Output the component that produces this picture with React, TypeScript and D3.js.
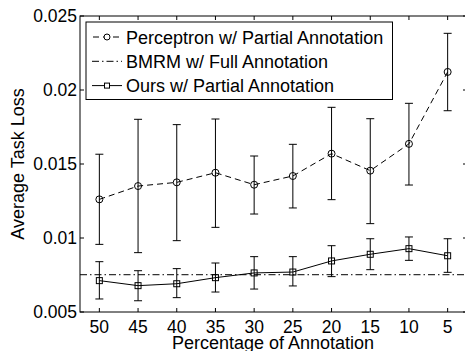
import React from "react";
import * as d3 from "d3";

const categories = ["50", "45", "40", "35", "30", "25", "20", "15", "10", "5"];
const perceptronMean = [0.01261, 0.01351, 0.01376, 0.01441, 0.0136, 0.01419, 0.0157, 0.01455, 0.01636, 0.02122];
const perceptronLow = [0.00957, 0.00901, 0.00982, 0.01072, 0.01162, 0.01203, 0.01259, 0.01097, 0.01358, 0.0186];
const perceptronHigh = [0.01566, 0.01802, 0.01766, 0.01804, 0.01554, 0.01633, 0.01883, 0.01806, 0.0191, 0.02383];
const oursMean = [0.00712, 0.00678, 0.00691, 0.00732, 0.00764, 0.0077, 0.00845, 0.0089, 0.00928, 0.0088];
const oursLow = [0.00588, 0.00576, 0.00597, 0.00635, 0.00655, 0.00676, 0.00739, 0.00786, 0.00849, 0.00768];
const oursHigh = [0.0084, 0.00779, 0.00793, 0.00831, 0.00874, 0.00874, 0.00948, 0.00995, 0.01007, 0.00995];
const bmrmValue = 0.00752;
const yTicks = [0.005, 0.01, 0.015, 0.02, 0.025];
const yTickLabels = ["0.005", "0.01", "0.015", "0.02", "0.025"];
const legendLabels = ["Perceptron w/ Partial Annotation", "BMRM w/ Full Annotation", "Ours w/ Partial Annotation"];

const W = 465;
const H = 351;
const L = 80, R = 467, T = 16, B = 312;
const FONT = "'Liberation Sans', Arial, Helvetica, sans-serif";

export default function App() {
  const x = d3.scalePoint<string>().domain(categories).range([L, R]).padding(0.5);
  const y = d3.scaleLinear().domain([0.005, 0.025]).range([B, T]);
  const line = d3.line<number>().x((_, i) => x(categories[i]) as number).y((d) => y(d));
  const tickLen = 4;
  const cap = 4;

  const errorBars = (low: number[], high: number[], key: string) =>
    low.map((lo, i) => {
      const cx = x(categories[i]) as number;
      const y1 = y(lo), y2 = y(high[i]);
      return (
        <g key={key + i} stroke="#000" strokeWidth={1} fill="none">
          <line x1={cx} x2={cx} y1={y1} y2={y2} />
          <line x1={cx - cap} x2={cx + cap} y1={y1} y2={y1} />
          <line x1={cx - cap} x2={cx + cap} y1={y2} y2={y2} />
        </g>
      );
    });

  const legendRows = [37, 61.3, 85.6];

  return (
    <svg width={W} height={H} style={{ position: "absolute", left: 0, top: 0, background: "#fff" }} fontFamily={FONT}>
      <rect x={0} y={0} width={W} height={H} fill="#fff" />
      {/* BMRM line */}
      <line x1={L} x2={R} y1={y(bmrmValue)} y2={y(bmrmValue)} stroke="#000" strokeWidth={1} strokeDasharray="7,3,1.5,3" />
      {/* error bars */}
      {errorBars(perceptronLow, perceptronHigh, "p")}
      {errorBars(oursLow, oursHigh, "o")}
      {/* series lines */}
      <path d={line(perceptronMean) as string} fill="none" stroke="#000" strokeWidth={1} strokeDasharray="6,4" />
      <path d={line(oursMean) as string} fill="none" stroke="#000" strokeWidth={1} />
      {perceptronMean.map((v, i) => (
        <circle key={"pc" + i} cx={x(categories[i]) as number} cy={y(v)} r={3.5} fill="none" stroke="#000" strokeWidth={1} />
      ))}
      {oursMean.map((v, i) => (
        <rect key={"os" + i} x={(x(categories[i]) as number) - 3} y={y(v) - 3} width={6} height={6} fill="none" stroke="#000" strokeWidth={1} />
      ))}
      {/* frame */}
      <rect x={L} y={T} width={R - L} height={B - T} fill="none" stroke="#000" strokeWidth={1} />
      {/* x ticks */}
      {categories.map((c) => {
        const cx = x(c) as number;
        return (
          <g key={"xt" + c}>
            <line x1={cx} x2={cx} y1={B} y2={B - tickLen} stroke="#000" />
            <line x1={cx} x2={cx} y1={T} y2={T + tickLen} stroke="#000" />
            <text x={cx} y={333} textAnchor="middle" fontSize={17.5} fill="#000">{c}</text>
          </g>
        );
      })}
      {/* y ticks */}
      {yTicks.map((t, i) => {
        const ty = y(t);
        return (
          <g key={"yt" + i}>
            <line x1={L} x2={L + tickLen} y1={ty} y2={ty} stroke="#000" />
            <line x1={R} x2={R - tickLen} y1={ty} y2={ty} stroke="#000" />
            <text x={77} y={ty + 6} textAnchor="end" fontSize={17.5} fill="#000">{yTickLabels[i]}</text>
          </g>
        );
      })}
      {/* axis labels */}
      <text x={273} y={349} textAnchor="middle" fontSize={18} fill="#000">Percentage of Annotation</text>
      <text transform={`translate(23.5,${(T + B) / 2}) rotate(-90)`} textAnchor="middle" fontSize={18} fill="#000">Average Task Loss</text>
      {/* legend */}
      <rect x={86} y={22} width={306.5} height={77.5} fill="#fff" stroke="#000" strokeWidth={1} />
      <line x1={92} x2={122} y1={legendRows[0]} y2={legendRows[0]} stroke="#000" strokeDasharray="6,4" strokeDashoffset={-1} />
      <circle cx={107} cy={legendRows[0]} r={3} fill="#fff" stroke="#000" />
      <line x1={92} x2={122} y1={legendRows[1]} y2={legendRows[1]} stroke="#000" strokeDasharray="7,3,1.5,3" />
      <line x1={92} x2={122} y1={legendRows[2]} y2={legendRows[2]} stroke="#000" />
      <rect x={104.5} y={legendRows[2] - 2.5} width={5} height={5} fill="#fff" stroke="#000" />
      {legendLabels.map((lab, i) => (
        <text key={lab} x={126} y={legendRows[i] + 6.5} fontSize={18} fill="#000">{lab}</text>
      ))}
    </svg>
  );
}
